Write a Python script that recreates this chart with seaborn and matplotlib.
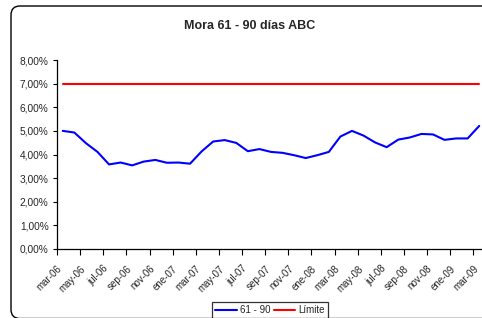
import matplotlib
matplotlib.use('Agg')
import numpy as np
import pandas as pd
import seaborn as sns
import matplotlib.pyplot as plt
from matplotlib.patches import FancyBboxPatch
from matplotlib.ticker import FuncFormatter, FixedLocator
from matplotlib.transforms import IdentityTransform

meses = ['mar-06', 'abr-06', 'may-06', 'jun-06', 'jul-06', 'ago-06', 'sep-06', 'oct-06',
         'nov-06', 'dic-06', 'ene-07', 'feb-07', 'mar-07', 'abr-07', 'may-07', 'jun-07',
         'jul-07', 'ago-07', 'sep-07', 'oct-07', 'nov-07', 'dic-07', 'ene-08', 'feb-08',
         'mar-08', 'abr-08', 'may-08', 'jun-08', 'jul-08', 'ago-08', 'sep-08', 'oct-08',
         'nov-08', 'dic-08', 'ene-09', 'feb-09', 'mar-09']

mora_61_90 = [5.00, 4.93, 4.48, 4.11, 3.58, 3.66, 3.54, 3.70, 3.77, 3.65, 3.66, 3.61,
              4.13, 4.55, 4.61, 4.49, 4.14, 4.23, 4.11, 4.07, 3.97, 3.85, 3.97, 4.11,
              4.76, 5.00, 4.80, 4.51, 4.31, 4.63, 4.72, 4.87, 4.85, 4.62, 4.68, 4.68, 5.21]

limite = [7.00, 7.00, 7.00, 7.00, 7.00, 7.00, 7.00, 7.00, 7.00, 7.00, 7.00, 7.00,
          7.00, 7.00, 7.00, 7.00, 7.00, 7.00, 7.00, 7.00, 7.00, 7.00, 7.00, 7.00,
          7.00, 7.00, 7.00, 7.00, 7.00, 7.00, 7.00, 7.00, 7.00, 7.00, 7.00, 7.00, 7.00]

sns.set_style('white')
plt.rcParams['font.family'] = ['Liberation Sans', 'DejaVu Sans']

df = pd.DataFrame({'Mes': meses, 'idx': range(len(meses)),
                   '61 - 90': mora_61_90, 'Límite': limite})

fig = plt.figure(figsize=(4.82, 3.18), dpi=100)
ax = fig.add_axes([57 / 482, 1 - 249 / 318, 428 / 482, 189 / 318])

sns.lineplot(data=df, x='idx', y='61 - 90', color='#0000ff', linewidth=1.5, ax=ax, label='61 - 90')
sns.lineplot(data=df, x='idx', y='Límite', color='#ff0000', linewidth=1.5, ax=ax, label='Límite')

ax.set_xlim(-0.5, len(meses) - 0.5)
ax.set_ylim(0, 8)
ax.set_yticks(np.arange(0, 9, 1))
ax.yaxis.set_major_formatter(FuncFormatter(lambda v, p: f'{v:.2f}%'.replace('.', ',')))
ax.tick_params(axis='y', which='major', left=True, length=3, width=0.8, labelsize=7.3, pad=3, color='black')

# labels every two months, placed on the category boundaries like Excel does
bordes = [i - 0.5 for i in range(0, len(meses), 2)]
ax.xaxis.set_major_locator(FixedLocator(bordes))
ax.set_xticklabels(meses[::2], rotation=45, ha='right', rotation_mode='anchor', fontsize=7)
ax.tick_params(axis='x', which='major', bottom=True, length=4, width=0.8, pad=6.5, color='black')

ax.set_xlabel('')
ax.set_ylabel('')
for side in ['top', 'right']:
    ax.spines[side].set_visible(False)
for side in ['left', 'bottom']:
    ax.spines[side].set_color('black')
    ax.spines[side].set_linewidth(0.9)
ax.get_legend().remove()

handles, labels = ax.get_legend_handles_labels()
leg = fig.legend(handles, labels, loc='center', bbox_to_anchor=(270 / 482, 1 - 310 / 318),
                 ncol=2, fontsize=7, frameon=True, fancybox=False, handlelength=2.2,
                 handletextpad=0.3, columnspacing=0.4, borderpad=0.35, borderaxespad=0)
leg.get_frame().set_edgecolor('black')
leg.get_frame().set_linewidth(0.9)

fig.text(250 / 482, 1 - 26 / 318, 'Mora 61 - 90 días ABC', ha='center', va='center',
         fontsize=9, fontweight='bold')

# chart border with rounded corners, right and bottom edges fall off the picture
frame = FancyBboxPatch((11, -0.5), 490, 312.5, transform=IdentityTransform(),
                       boxstyle='round,pad=0,rounding_size=9',
                       fill=False, edgecolor='black', linewidth=1.0, zorder=0)
fig.patches.append(frame)

fig.savefig('out.png', dpi=100)
